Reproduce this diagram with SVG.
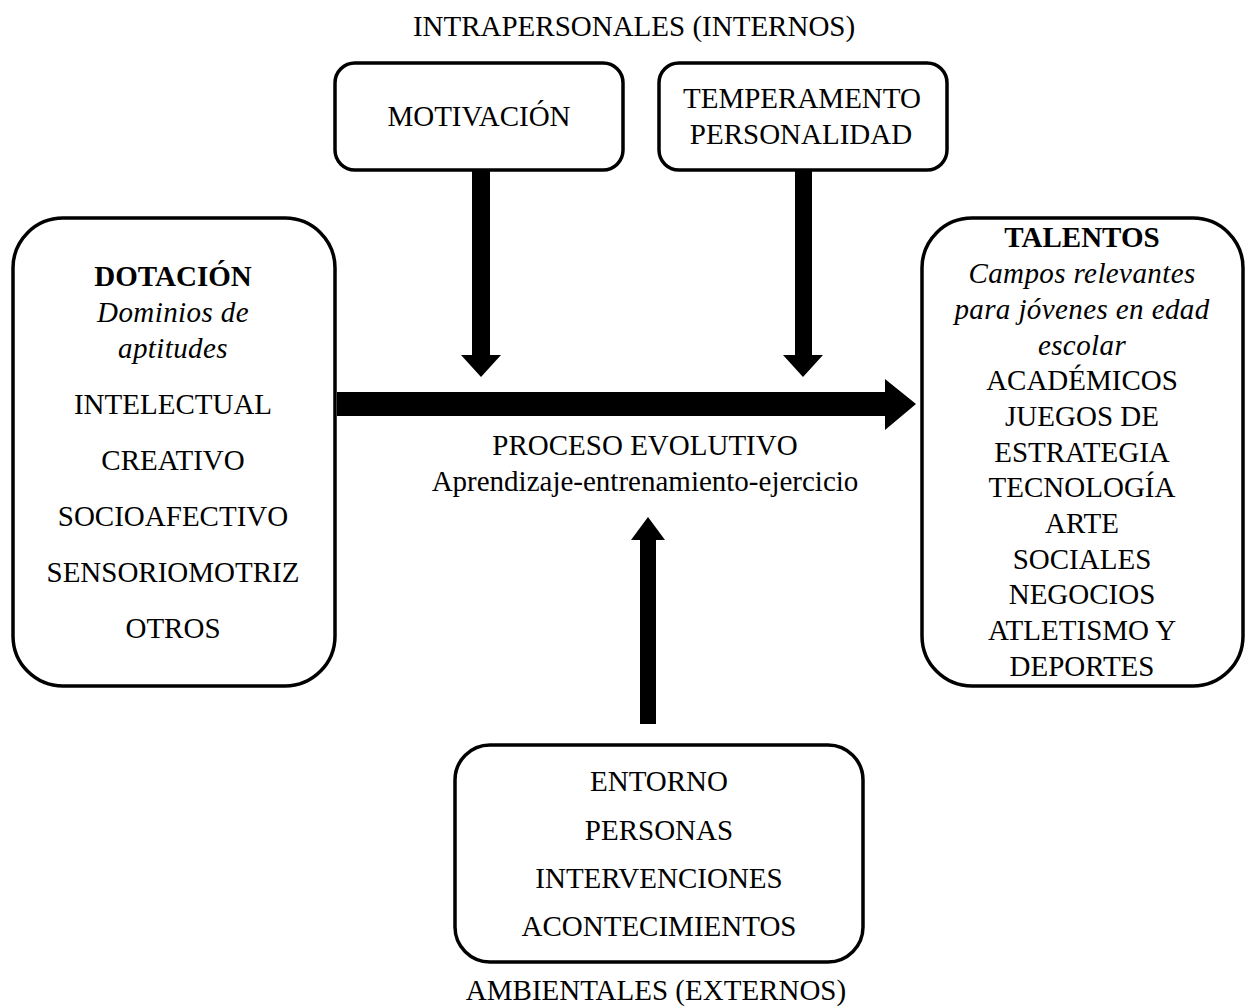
<svg xmlns="http://www.w3.org/2000/svg" width="1246" height="1006" viewBox="0 0 1246 1006">
<style>
.box{fill:#fff;stroke:#000;stroke-width:3.5}
text{font-family:"Liberation Serif","Times New Roman",serif;font-size:29px;fill:#000;text-anchor:middle}
.b{font-weight:bold}
.i{font-style:italic;letter-spacing:0.4px}
.arr{fill:#000}
</style>
<rect width="1246" height="1006" fill="#fff"/>
<text x="634" y="36">INTRAPERSONALES (INTERNOS)</text>
<text x="656" y="1000">AMBIENTALES (EXTERNOS)</text>
<g id="connectors">
<path class="arr" d="M472,170 H490 V355 H501 L481,377 L461,355 H472 Z"/>
<path class="arr" d="M795,170 H812 V355 H823 L803,377 L783,355 H795 Z"/>
<path class="arr" d="M337,392 H885 V379 L916,404 L885,430 V416 H337 Z"/>
<path class="arr" d="M640,724 V540 H631 L648,517 L665,540 H656 V724 Z"/>
</g>
<g id="motivacion">
<rect class="box" x="335" y="63" width="288" height="107" rx="20"/>
<text x="479" y="126">MOTIVACIÓN</text>
</g>
<g id="temperamento">
<rect class="box" x="659" y="63" width="288" height="107" rx="20"/>
<text x="802" y="108">TEMPERAMENTO</text>
<text x="801" y="144">PERSONALIDAD</text>
</g>
<g id="dotacion">
<rect class="box" x="13" y="218" width="322" height="468" rx="50"/>
<text class="b" x="173" y="286">DOTACIÓN</text>
<text class="i" x="173" y="322">Dominios de</text>
<text class="i" x="173" y="358">aptitudes</text>
<text x="173" y="414">INTELECTUAL</text>
<text x="173" y="470">CREATIVO</text>
<text x="173" y="526">SOCIOAFECTIVO</text>
<text x="173" y="582">SENSORIOMOTRIZ</text>
<text x="173" y="638">OTROS</text>
</g>
<g id="talentos">
<rect class="box" x="922" y="218" width="321" height="468" rx="50"/>
<text class="b" x="1082" y="247">TALENTOS</text>
<text class="i" x="1082" y="283">Campos relevantes</text>
<text class="i" x="1082" y="319">para jóvenes en edad</text>
<text class="i" x="1082" y="355">escolar</text>
<text x="1082" y="390">ACADÉMICOS</text>
<text x="1082" y="426">JUEGOS DE</text>
<text x="1082" y="462">ESTRATEGIA</text>
<text x="1082" y="497">TECNOLOGÍA</text>
<text x="1082" y="533">ARTE</text>
<text x="1082" y="569">SOCIALES</text>
<text x="1082" y="604">NEGOCIOS</text>
<text x="1082" y="640">ATLETISMO Y</text>
<text x="1082" y="676">DEPORTES</text>
</g>
<g id="proceso">
<text x="645" y="455">PROCESO EVOLUTIVO</text>
<text x="645" y="491">Aprendizaje-entrenamiento-ejercicio</text>
</g>
<g id="ambientales">
<rect class="box" x="455" y="745" width="408" height="217" rx="35"/>
<text x="659" y="791">ENTORNO</text>
<text x="659" y="840">PERSONAS</text>
<text x="659" y="888">INTERVENCIONES</text>
<text x="659" y="936">ACONTECIMIENTOS</text>
</g>
</svg>
